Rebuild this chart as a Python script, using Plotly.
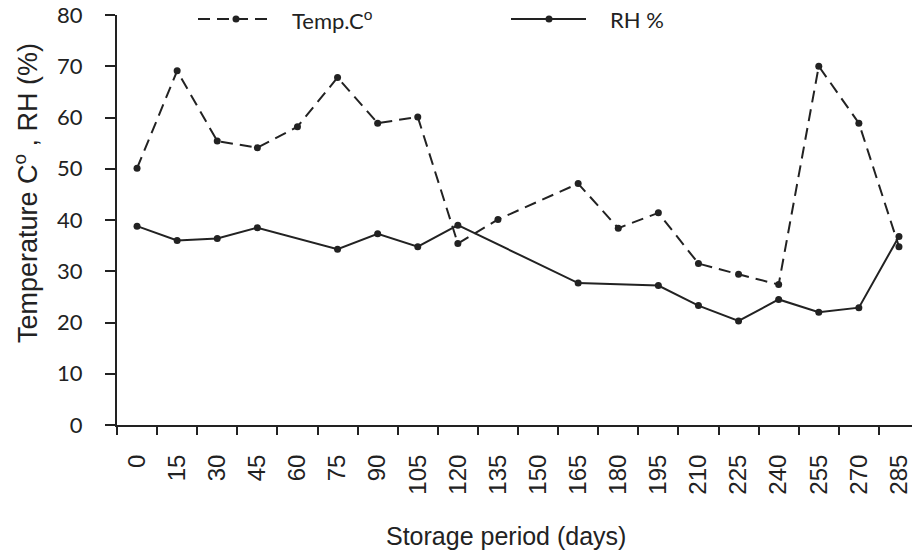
import plotly.graph_objects as go

days = ["0", "15", "30", "45", "60", "75", "90", "105", "120", "135",
        "150", "165", "180", "195", "210", "225", "240", "255", "270", "285"]
temp = [50.1, 69.1, 55.4, 54.1, 58.2, 67.8, 58.9, 60.1, 35.4, 40.1,
        None, 47.1, 38.4, 41.4, 31.5, 29.4, 27.4, 70.0, 58.9, 34.8]
rh = [38.8, 36.0, 36.4, 38.5, None, 34.3, 37.3, 34.8, 39.0, None,
      None, 27.7, None, 27.2, 23.3, 20.3, 24.5, 22.0, 22.9, 36.8]
y_ticks = [0, 10, 20, 30, 40, 50, 60, 70, 80]

INK = "#222222"
DASH = "12px,7px"

L, T, B = 117, 15, 125
W, H = 912, 550
PW, PH = W - L, H - T - B


def xp(px):  # page pixel -> paper
    return (px - L) / PW


def yp(py):
    return (H - B - py) / PH


fig = go.Figure()
fig.add_trace(go.Scatter(
    x=days, y=temp, mode="lines+markers", name="Temp.C<sup>o</sup>",
    connectgaps=True,
    line=dict(color=INK, width=2, dash=DASH),
    marker=dict(color=INK, size=7),
))
fig.add_trace(go.Scatter(
    x=days, y=rh, mode="lines+markers", name="RH %",
    connectgaps=True,
    line=dict(color=INK, width=2),
    marker=dict(color=INK, size=7),
))

# manual legend
shapes = [
    dict(type="line", xref="paper", yref="paper", x0=xp(198), x1=xp(270),
         y0=yp(19), y1=yp(19), line=dict(color=INK, width=2, dash=DASH)),
    dict(type="line", xref="paper", yref="paper", x0=xp(511), x1=xp(586),
         y0=yp(19), y1=yp(19), line=dict(color=INK, width=2)),
]
for cx in (236, 549):
    shapes.append(dict(type="circle", xref="paper", yref="paper",
                       xsizemode="pixel", ysizemode="pixel",
                       xanchor=xp(cx), yanchor=yp(19),
                       x0=-3.5, x1=3.5, y0=-3.5, y1=3.5,
                       fillcolor=INK, line=dict(color=INK, width=0)))

annotations = [
    dict(text="Temp.C<sup>o</sup>", xref="paper", yref="paper", x=xp(290), y=yp(19),
         xanchor="left", yanchor="middle", showarrow=False,
         font=dict(family="Lato", size=22, color=INK)),
    dict(text="RH %", xref="paper", yref="paper", x=xp(608), y=yp(19),
         xanchor="left", yanchor="middle", showarrow=False,
         font=dict(family="Lato", size=22, color=INK)),
    dict(text="Storage period (days)", xref="paper", yref="paper", x=xp(506), y=yp(536),
         xanchor="center", yanchor="middle", showarrow=False,
         font=dict(family="Liberation Sans, Arial", size=25, color=INK)),
    dict(text="Temperature C<sup>o</sup> , RH (%)", xref="paper", yref="paper",
         x=xp(26), y=yp(193), textangle=-90,
         xanchor="center", yanchor="middle", showarrow=False,
         font=dict(family="Liberation Sans, Arial", size=27, color=INK)),
]

fig.update_layout(
    width=W, height=H,
    margin=dict(l=L, r=0, t=T, b=B, pad=0),
    paper_bgcolor="white", plot_bgcolor="white",
    showlegend=False,
    shapes=shapes, annotations=annotations,
    xaxis=dict(
        type="category", range=[-0.5, 19.325],
        tickson="boundaries", ticks="outside", ticklen=8, tickwidth=2, tickcolor=INK,
        showline=True, linecolor=INK, linewidth=2, showgrid=False, zeroline=False,
        tickangle=-90, ticklabelstandoff=18, ticklabeloverflow="allow",
        tickfont=dict(family="Liberation Sans, Arial", size=24, color=INK),
    ),
    yaxis=dict(
        range=[0, 80], tickvals=y_ticks, ticks="outside", ticklen=10, tickwidth=2,
        tickcolor=INK, showline=True, linecolor=INK, linewidth=2,
        showgrid=False, zeroline=False, ticklabelstandoff=18, ticklabeloverflow="allow",
        tickfont=dict(family="Lato", size=22, color=INK),
    ),
)

fig.write_html("out.html", config={"displayModeBar": False},
               post_script="document.body.style.margin='0';")
